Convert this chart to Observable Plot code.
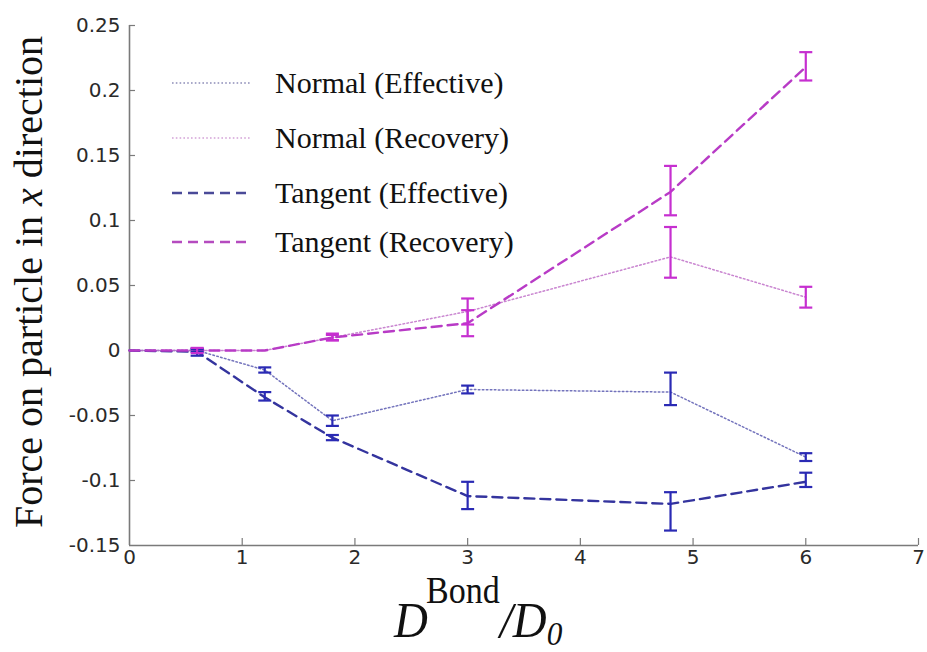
<!DOCTYPE html>
<html><head><meta charset="utf-8">
<script src="https://cdn.jsdelivr.net/npm/d3@7"></script>
<script src="https://cdn.jsdelivr.net/npm/@observablehq/plot@0.6"></script>
<style>
html,body{margin:0;padding:0;background:#fff;}
#chart{width:927px;height:652px;overflow:hidden;}
</style></head><body><div id="chart"></div>
<script>
// ---- data ----
const xValues = [0, 0.6, 1.2, 1.8, 3, 4.8, 6];

const normalEffective     = [0,  0,      -0.015, -0.054, -0.030, -0.032, -0.082];
const normalEffectiveLow  = [0, -0.001,  -0.017, -0.058, -0.033, -0.042, -0.085];
const normalEffectiveHigh = [0,  0.001,  -0.013, -0.050, -0.027, -0.017, -0.079];

const normalRecovery      = [0, 0, 0, 0.010, 0.030, 0.072, 0.041];
const normalRecoveryLow   = [0, 0, 0, 0.008, 0.020, 0.056, 0.033];
const normalRecoveryHigh  = [0, 0, 0, 0.012, 0.040, 0.095, 0.049];

const tangentEffective     = [0, -0.001, -0.036, -0.067, -0.112, -0.118, -0.101];
const tangentEffectiveLow  = [0, -0.004, -0.0385, -0.069, -0.122, -0.1385, -0.105];
const tangentEffectiveHigh = [0,  0.0015, -0.032, -0.065, -0.101, -0.109, -0.094];

const tangentRecovery      = [0, 0, 0, 0.010, 0.021, 0.122, 0.218];
const tangentRecoveryLow   = [0, -0.002, 0, 0.0077, 0.011, 0.104, 0.2077];
const tangentRecoveryHigh  = [0,  0.002, 0, 0.013, 0.031, 0.142, 0.2295];

const seriesNames = ["Normal (Effective)", "Normal (Recovery)", "Tangent (Effective)", "Tangent (Recovery)"];

const xTicks = [0, 1, 2, 3, 4, 5, 6, 7];
const xTickLabels = ["0", "1", "2", "3", "4", "5", "6", "7"];
const yTicks = [-0.15, -0.1, -0.05, 0, 0.05, 0.1, 0.15, 0.2, 0.25];
const yTickLabels = ["-0.15", "-0.1", "-0.05", "0", "0.05", "0.1", "0.15", "0.2", "0.25"];

// ---- styles ----
const BLUE = "#2a2ab4", BLUE_LINE = "#34349e";
const MAG = "#c62fd0", MAG_LINE = "#b83bc6";
const styles = {
  "Normal (Effective)":  {line: "#5a5ab0", bar: BLUE, dash: "1.6,2.4", width: 1.5, opacity: 0.85, legend: "#8d8db8"},
  "Normal (Recovery)":   {line: "#c070c8", bar: MAG,  dash: "1.6,2.4", width: 1.5, opacity: 0.85, legend: "#d4a2d8"},
  "Tangent (Effective)": {line: BLUE_LINE, bar: BLUE, dash: "10,6", width: 2.4, opacity: 1, legend: "#4a4a98"},
  "Tangent (Recovery)":  {line: MAG_LINE,  bar: MAG,  dash: "10,6", width: 2.4, opacity: 1, legend: "#b54bbf"}
};

const seriesData = [
  [normalEffective, normalEffectiveLow, normalEffectiveHigh],
  [normalRecovery, normalRecoveryLow, normalRecoveryHigh],
  [tangentEffective, tangentEffectiveLow, tangentEffectiveHigh],
  [tangentRecovery, tangentRecoveryLow, tangentRecoveryHigh]
];

const rows = seriesData.map(([v, lo, hi], s) =>
  xValues.map((x, i) => ({series: seriesNames[s], x, y: v[i], lo: lo[i], hi: hi[i]})));

const capSymbol = {
  draw(context, size) {
    const r = Math.sqrt(size / Math.PI);
    context.moveTo(-r, 0);
    context.lineTo(r, 0);
  }
};

const W = 927, H = 652;
const mL = 129, mR = 9, mT = 25, mB = 107;
const frameW = W - mL - mR, frameH = H - mT - mB;
const AXIS = "#7a7a7a";

const marks = [
  Plot.ruleY([yTicks[0]], {stroke: AXIS, strokeWidth: 1.6}),
  Plot.ruleX([xTicks[0]], {stroke: AXIS, strokeWidth: 1.6}),
  Plot.tickX(xTicks.slice(1), {x: d => d, stroke: AXIS, strokeWidth: 1.2, insetTop: frameH - 7}),
  Plot.tickY(yTicks.slice(1), {y: d => d, stroke: AXIS, strokeWidth: 1.2, insetRight: frameW - 6}),
  Plot.axisX({ticks: xTicks, tickFormat: d => xTickLabels[xTicks.indexOf(d)], tickSize: 0, tickPadding: 4,
              label: null, fill: "#2a2a2a", stroke: "none"}),
  Plot.axisY({ticks: yTicks, tickFormat: d => yTickLabels[yTicks.indexOf(d)], tickSize: 0, tickPadding: 9,
              label: null, fill: "#2a2a2a", stroke: "none"})
];

rows.forEach(r => {
  const st = styles[r[0].series];
  marks.push(Plot.line(r, {x: "x", y: "y", stroke: st.line, strokeWidth: st.width,
    strokeDasharray: st.dash, strokeOpacity: st.opacity}));
});
rows.forEach(r => {
  const st = styles[r[0].series];
  const withBars = r.filter(d => d.hi !== d.lo);
  marks.push(Plot.ruleX(withBars, {x: "x", y1: "lo", y2: "hi", stroke: st.bar, strokeWidth: 2.2}));
  marks.push(Plot.dot(withBars, {x: "x", y: "lo", symbol: capSymbol, r: 6.5, stroke: st.bar, strokeWidth: 2.2, fill: "none"}));
  marks.push(Plot.dot(withBars, {x: "x", y: "hi", symbol: capSymbol, r: 6.5, stroke: st.bar, strokeWidth: 2.2, fill: "none"}));
});

const svg = Plot.plot({
  width: W, height: H,
  marginLeft: mL, marginRight: mR, marginTop: mT, marginBottom: mB,
  x: {domain: [xTicks[0], xTicks[xTicks.length - 1]], axis: null},
  y: {domain: [yTicks[0], yTicks[yTicks.length - 1]], axis: null},
  style: {fontFamily: "'DejaVu Sans', 'Liberation Sans', Arial, sans-serif", background: "#fff", overflow: "visible"},
  marks
});

const g = d3.select(svg);
// tick label size (force over Plot's defaults)
g.selectAll("text").style("font-size", "20px");

// legend
const legendRows = [83, 138, 193, 242];
seriesNames.forEach((name, i) => {
  const st = styles[name];
  g.append("line").attr("x1", 172).attr("x2", 250).attr("y1", legendRows[i]).attr("y2", legendRows[i])
    .attr("stroke", st.legend).attr("stroke-width", st.width)
    .attr("stroke-dasharray", name.startsWith("Tangent") ? "10,6" : "1.6,2.2");
  g.append("text").attr("x", 275).attr("y", legendRows[i] + 10)
    .attr("text-anchor", "start")
    .attr("font-family", "'Liberation Serif', 'Times New Roman', serif").attr("font-size", 30)
    .attr("fill", "#111").text(name);
});

// y title
const yt = g.append("text")
  .attr("transform", "translate(42,282) rotate(-90)")
  .attr("text-anchor", "middle")
  .attr("font-family", "'Liberation Serif', 'Times New Roman', serif")
  .attr("font-size", 40).attr("fill", "#111");
yt.append("tspan").text("Force on particle in ");
yt.append("tspan").attr("font-style", "italic").text("x");
yt.append("tspan").text(" direction");

// x title
const xt = g.append("text").attr("transform", "translate(394,637) scale(0.92,1)")
  .attr("text-anchor", "start")
  .attr("font-family", "'Liberation Serif', 'Times New Roman', serif")
  .attr("font-size", 51).attr("fill", "#111");
xt.append("tspan").attr("font-style", "italic").text("D");
xt.append("tspan").attr("font-size", 37).attr("dy", -34).attr("dx", -2).text("Bond");
xt.append("tspan").attr("font-style", "italic").attr("dy", 34).text("/D");
xt.append("tspan").attr("font-style", "italic").attr("font-size", 34).attr("dy", 8).text("0");

document.getElementById("chart").appendChild(svg);
</script>
</body></html>
